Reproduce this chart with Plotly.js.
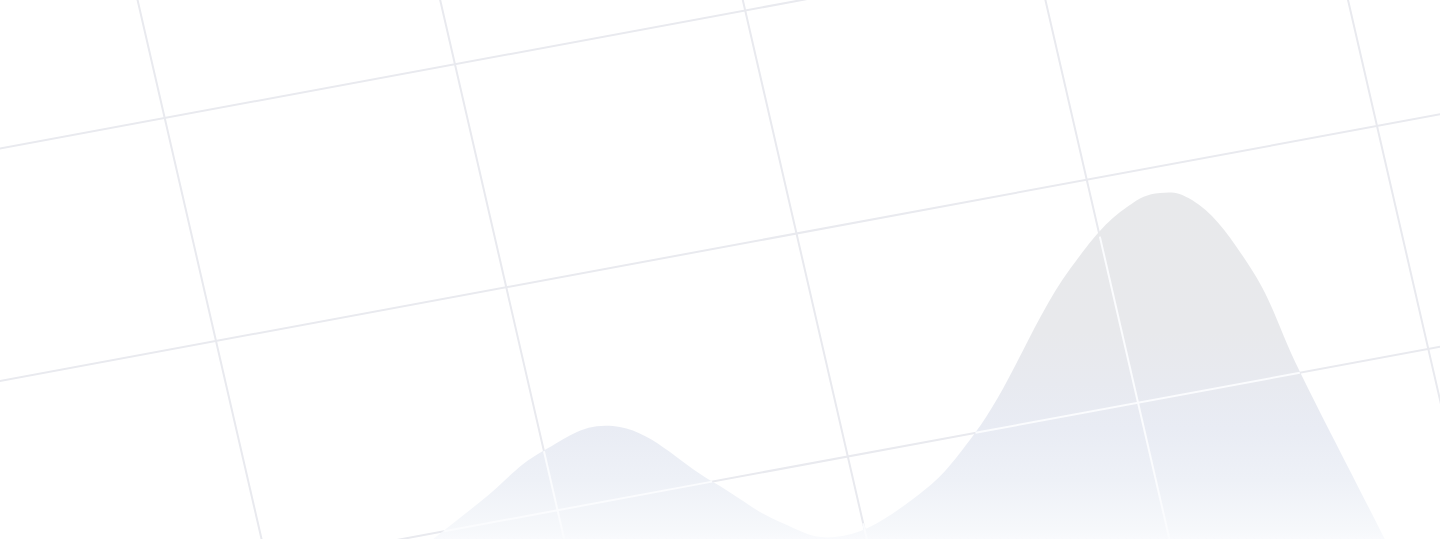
<!DOCTYPE html>
<html>
<head>
<meta charset="utf-8">
<script src="https://cdn.plot.ly/plotly-3.0.1.min.js"></script>
<style>
  html, body { margin: 0; padding: 0; background: #ffffff; overflow: hidden; }
  #grafico { width: 1440px; height: 539px; }
</style>
</head>
<body>
<div id="grafico"></div>
<script>
// curva (área) - posição x e valor
const curveX = [400, 480, 543, 613, 713, 780, 835, 913, 975, 1070, 1127, 1160, 1192, 1250, 1300, 1370, 1420];
const curveY = [-26, 37, 88, 113, 57, 17, 2, 40, 106, 270, 332, 346, 339, 272, 167, 29, -70];

// índices da grade inclinada
const gridCols = [-1, 0, 1, 2, 3, 4, 5];
const gridRows = [-2, -1, 0, 1, 2];

// projeção da grade (px)
const W = 1440, H = 539;
const ORIGIN = [216, 341];
const STEP_U = [290.25, -53.75];
const STEP_V = [51.3, 223];

function project(i, j) {
	return [ORIGIN[0] + i * STEP_U[0] + j * STEP_V[0], H - (ORIGIN[1] + i * STEP_U[1] + j * STEP_V[1])];
}

function curveAt(x) {
	if (x < curveX[0] || x > curveX[curveX.length - 1]) return -Infinity;
	for (let k = 1; k < curveX.length; k++) {
		if (x <= curveX[k]) {
			const t = (x - curveX[k - 1]) / (curveX[k] - curveX[k - 1]);
			return curveY[k - 1] + t * (curveY[k] - curveY[k - 1]);
		}
	}
	return -Infinity;
}

// segmentos das linhas da grade
const segs = [];
gridCols.forEach(c => segs.push([project(c, -3), project(c, 3)]));
gridRows.forEach(r => segs.push([project(-2, r), project(7, r)]));

const gx = [], gy = [];
segs.forEach(s => { gx.push(s[0][0], s[1][0], null); gy.push(s[0][1], s[1][1], null); });

// parte das linhas que fica sobre a área (brancas)
const wx = [], wy = [];
segs.forEach(s => {
	const n = 1200;
	let inside = false;
	for (let k = 0; k <= n; k++) {
		const x = s[0][0] + (s[1][0] - s[0][0]) * k / n;
		const y = s[0][1] + (s[1][1] - s[0][1]) * k / n;
		const ok = y < curveAt(x) && y > -5;
		if (ok) { wx.push(x); wy.push(y); inside = true; }
		else if (inside) { wx.push(null); wy.push(null); inside = false; }
	}
	if (inside) { wx.push(null); wy.push(null); }
});

const grid = {
	x: gx, y: gy, mode: 'lines', hoverinfo: 'skip',
	line: { color: '#e9eaef', width: 2 }
};

const area = {
	x: curveX, y: curveY, mode: 'lines', fill: 'tozeroy', hoverinfo: 'skip',
	line: { shape: 'spline', smoothing: 1.2, width: 0, color: 'rgba(0,0,0,0)' },
	fillgradient: {
		type: 'vertical', start: 0, stop: 346,
		colorscale: [
			[0, '#f9fafd'],
			[0.03, '#f6f8fb'],
			[0.17, '#eef1f7'],
			[0.32, '#e9ecf4'],
			[0.45, '#e8eaf0'],
			[0.6, '#e8e9ec'],
			[1, '#e8e9eb']
		]
	}
};

const gridOver = {
	x: wx, y: wy, mode: 'lines', hoverinfo: 'skip',
	line: { color: '#fbfcfe', width: 2 }
};

const layout = {
	width: W, height: H,
	margin: { l: 0, r: 0, t: 0, b: 0 },
	paper_bgcolor: '#ffffff', plot_bgcolor: '#ffffff',
	showlegend: false,
	xaxis: { range: [0, W], visible: false, fixedrange: true },
	yaxis: { range: [0, H], visible: false, fixedrange: true }
};

Plotly.newPlot('grafico', [grid, area, gridOver], layout, { staticPlot: true, displayModeBar: false });
</script>
</body>
</html>
